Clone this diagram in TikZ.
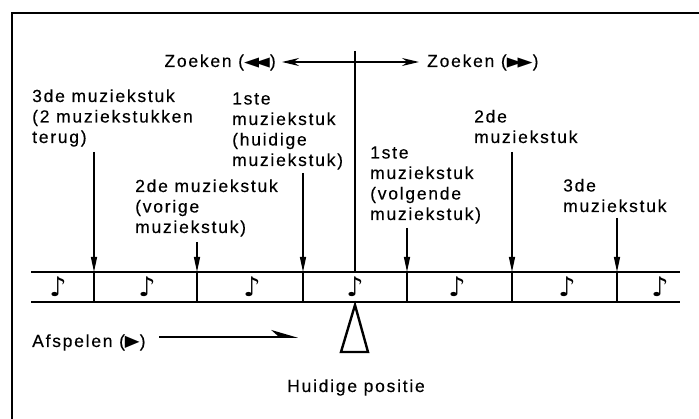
\documentclass[tikz,border=0pt]{standalone}
\usepackage{fontspec}
\usepackage{graphicx}
\setmainfont{Liberation Sans}[LetterSpace=10,FakeBold=0.3]
\newfontfamily\symfont{DejaVu Sans}
\usetikzlibrary{arrows.meta}
\newcommand{\rewsym}{{\symfont\fontsize{14}{14}\selectfont\scalebox{1.4}[0.95]{◀\kern-3pt◀}}}
\newcommand{\ffwsym}{{\symfont\fontsize{14}{14}\selectfont\scalebox{1.4}[0.95]{▶\kern-3pt▶}}}
\newcommand{\playsym}{{\symfont\fontsize{16}{16}\selectfont\scalebox{1.2}[1]{▶}}}

\begin{document}
\begin{tikzpicture}[x=1pt,y=-1pt,
     >=Stealth,
     lbl/.style={anchor=base west,align=left,inner sep=0pt,font=\fontsize{17.5}{20.5}\selectfont},
     frame/.style={line width=1.8pt},
     tape/.style={line width=2.6pt},
     divider/.style={line width=2.4pt},
     marker/.style={line width=1.3pt,-{Triangle[length=15pt,width=6pt]}},
     seek/.style={line width=1.6pt,{Stealth[length=17pt,width=8pt]}-{Stealth[length=17pt,width=8pt]}},
     play/.style={line width=1.6pt,-{Stealth[harpoon,length=24pt,width=14pt]}},
     note/.style={font=\symfont\fontsize{27}{27}\selectfont,inner sep=0pt}]
    \useasboundingbox (0,0) rectangle (699,419);
    \draw[frame] (12,419) -- (12,13) -- (699,13);

    % tape with track boundaries
    \coordinate (tl) at (31,272);  \coordinate (tr) at (680,272);
    \coordinate (bl) at (31,302);  \coordinate (br) at (680,302);
    \draw[tape] (tl) -- (tr);
    \draw[tape] (bl) -- (br);
    \foreach \x [count=\i] in {94,197,303,407,512,617} {
      \coordinate (t\i) at (\x,272);
      \coordinate (b\i) at (\x,302);
      \draw[divider] (t\i) -- (b\i);
    }
    \foreach \x [count=\i] in {58,147,252,355,457,567,660}
      \node[note] (n\i) at (\x,287) {♪};

    % labels (placed at the baseline of their last line)
    \node[lbl] (l3)  at (32,143)  {3de muziekstuk\\(2 muziekstukken\\terug)};
    \node[lbl] (l2v) at (135,233) {2de muziekstuk\\(vorige\\muziekstuk)};
    \node[lbl] (l1h) at (232,166) {1ste\\muziekstuk\\(huidige\\muziekstuk)};
    \node[lbl] (l1v) at (370,220) {1ste\\muziekstuk\\(volgende\\muziekstuk)};
    \node[lbl] (l2n) at (474,143) {2de\\muziekstuk};
    \node[lbl] (l3n) at (563,212) {3de\\muziekstuk};
    \foreach \i/\y in {1/152,2/242,3/173,4/228,5/152,6/218}
      \draw[marker] (t\i |- 0,\y) -- (t\i);

    % search
    \node[lbl,anchor=base east] (zl) at (276,67) {Zoeken (\rewsym)};
    \node[lbl] (zr) at (427,67) {Zoeken (\ffwsym)};
    \coordinate (sl) at (282,62);
    \coordinate (sr) at (419,62);
    \coordinate (top) at (355,51);
    \coordinate (cur) at (355,272);
    \draw[seek] (sl) -- (sr);
    \draw[line width=1.6pt] (top) -- (cur);

    % playback and position
    \node[lbl] (af) at (32,347) {Afspelen (\playsym)};
    \coordinate (ps) at (159,337);
    \coordinate (pe) at (298,337);
    \draw[play] (ps) -- (pe);
    \draw[line width=2.4pt,line join=miter] (355,305) -- (368,352) -- (341,352) -- cycle;
    \node[lbl,anchor=base] (pos) at (356,392) {Huidige positie};
\end{tikzpicture}
\end{document}
